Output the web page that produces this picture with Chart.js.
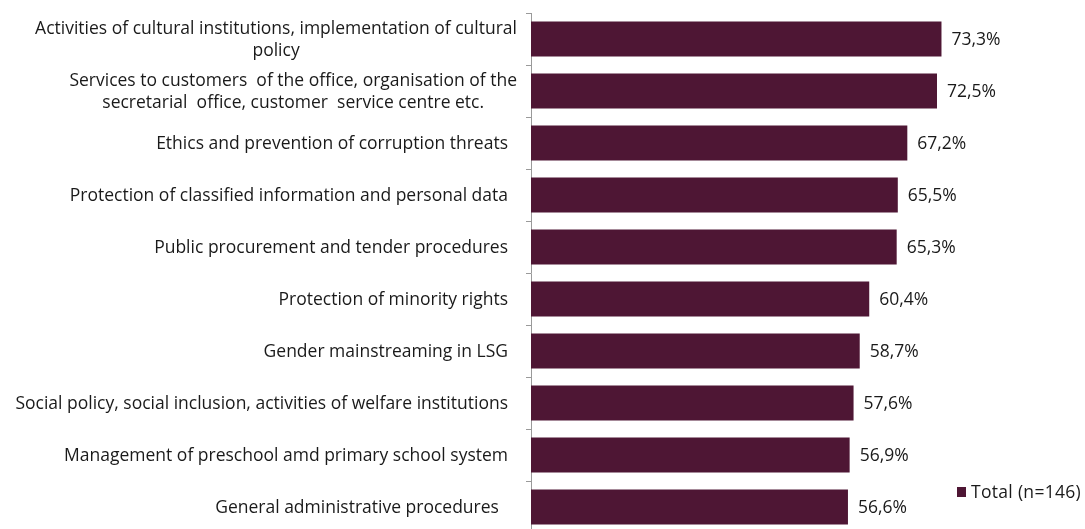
<!DOCTYPE html>
<html>
<head>
<meta charset="utf-8">
<script src="https://cdn.jsdelivr.net/npm/chart.js@4/dist/chart.umd.min.js"></script>
<style>
  html, body { margin: 0; padding: 0; background: #fff; overflow: hidden; }
</style>
</head>
<body>
<canvas id="training-chart" width="1085" height="537"></canvas>
<script>
const topics = [
  ['Activities of cultural institutions, implementation of cultural', 'policy'],
  ['Services to customers  of the office, organisation of the', 'secretarial  office, customer  service centre etc.'],
  'Ethics and prevention of corruption threats',
  'Protection of classified information and personal data',
  'Public procurement and tender procedures',
  'Protection of minority rights',
  'Gender mainstreaming in LSG',
  'Social policy, social inclusion, activities of welfare institutions',
  'Management of preschool amd primary school system',
  'General administrative procedures  '
];
const shares = [73.3, 72.5, 67.2, 65.5, 65.3, 60.4, 58.7, 57.6, 56.9, 56.6];
const seriesName = 'Total (n=146)';
const barColor = '#4e1634';
const inkColor = '#1a1a1a';
const fontFamily = '"Open Sans", Lato, sans-serif';
const textFont = '17.5px ' + fontFamily;

// category names: single lines right-aligned, wrapped ones centred as a block
const categoryLabels = {
  id: 'categoryLabels',
  afterDraw(chart) {
    const ctx = chart.ctx;
    const yScale = chart.scales.y;
    ctx.save();
    ctx.font = textFont;
    ctx.fillStyle = inkColor;
    ctx.textBaseline = 'middle';
    topics.forEach((label, i) => {
      const y = yScale.getPixelForTick(i);
      if (Array.isArray(label)) {
        const lineH = 22;
        const widest = Math.max(...label.map(t => ctx.measureText(t).width));
        const cx = 517 - widest / 2;
        ctx.textAlign = 'center';
        label.forEach((line, k) => {
          ctx.fillText(line, cx, y + 1 + (k - (label.length - 1) / 2) * lineH);
        });
      } else {
        ctx.textAlign = 'right';
        ctx.fillText(label, 508, y + 1);
      }
    });
    ctx.restore();
  }
};

// percent labels next to each bar, comma as decimal mark
const valueLabels = {
  id: 'valueLabels',
  afterDatasetsDraw(chart) {
    const ctx = chart.ctx;
    const meta = chart.getDatasetMeta(0);
    ctx.save();
    ctx.font = textFont;
    ctx.fillStyle = inkColor;
    ctx.textBaseline = 'middle';
    meta.data.forEach((bar, i) => {
      ctx.fillText(shares[i].toFixed(1).replace('.', ',') + '%', bar.x + 10, bar.y + 1);
    });
    ctx.restore();
  }
};

// small legend box at the lower right
const cornerLegend = {
  id: 'cornerLegend',
  afterDraw(chart) {
    const ctx = chart.ctx;
    ctx.save();
    ctx.fillStyle = barColor;
    ctx.fillRect(957, 487, 9, 10);
    ctx.font = textFont;
    ctx.letterSpacing = '0.3px';
    ctx.fillStyle = inkColor;
    ctx.textBaseline = 'middle';
    ctx.fillText(seriesName, 971, 493);
    ctx.restore();
  }
};

new Chart(document.querySelector('#training-chart').getContext('2d'), {
  type: 'bar',
  data: {
    labels: topics,
    datasets: [{
      label: seriesName,
      data: shares,
      backgroundColor: barColor,
      borderWidth: 0,
      categoryPercentage: 0.67,
      barPercentage: 1
    }]
  },
  options: {
    indexAxis: 'y',
    responsive: false,
    animation: false,
    layout: { padding: { top: 13, right: 50, bottom: 4, left: 0 } },
    plugins: {
      legend: { display: false },
      tooltip: { enabled: false }
    },
    scales: {
      x: {
        display: false,
        min: 0,
        max: 90
      },
      y: {
        afterFit(scale) {
          scale.width = 531;
          scale.paddingTop = 0;
          scale.paddingBottom = 0;
        },
        grid: {
          drawOnChartArea: false,
          drawTicks: true,
          tickLength: 5,
          color: '#9a9a9a',
          offset: true
        },
        border: { color: '#9a9a9a', width: 1 },
        ticks: { display: false, autoSkip: false }
      }
    }
  },
  plugins: [categoryLabels, valueLabels, cornerLegend]
});
</script>
</body>
</html>
